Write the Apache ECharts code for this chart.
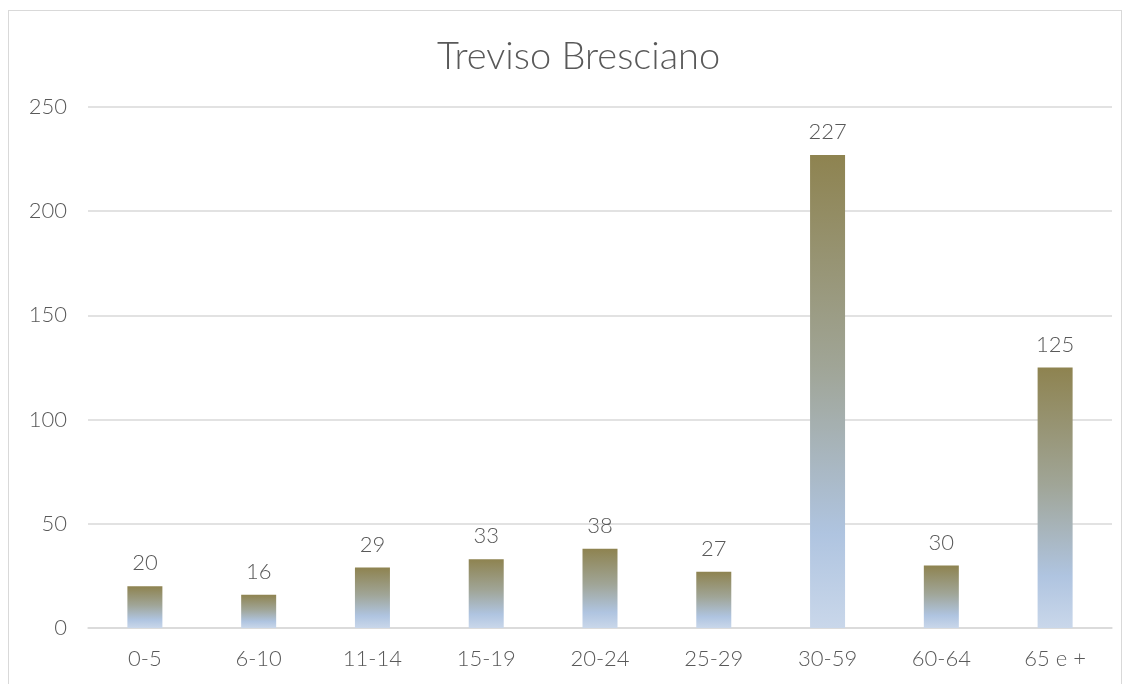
<!DOCTYPE html>
<html>
<head>
<meta charset="utf-8">
<script src="https://cdn.jsdelivr.net/npm/echarts@6/dist/echarts.min.js"></script>
<style>
  html, body { margin: 0; padding: 0; background: #fff; }
  #frame { position: absolute; left: 8px; top: 10px; width: 1114px; height: 690px; border: 1px solid #d9d9d9; box-sizing: border-box; }
  #chart { position: absolute; left: 0; top: 0; width: 1130px; height: 684px; }
</style>
</head>
<body>
<div id="frame"></div>
<div id="chart"></div>
<script>
const categories = ['0-5', '6-10', '11-14', '15-19', '20-24', '25-29', '30-59', '60-64', '65 e +']
const values = [20, 16, 29, 33, 38, 27, 227, 30, 125]
const yTicks = { min: 0, max: 250, interval: 50 }

const myChart = echarts.init(document.getElementById('chart'))
myChart.setOption({
  textStyle: { fontFamily: 'Lato', fontWeight: 300 },
  title: {
    text: 'Treviso Bresciano',
    left: 432,
    top: 33,
    textStyle: { fontFamily: 'Lato', fontWeight: 300, fontSize: 38, color: '#595959' }
  },
  grid: { left: 88, right: 18, top: 107, bottom: 56 },
  xAxis: {
    type: 'category',
    data: categories,
    axisTick: { show: false },
    axisLine: { lineStyle: { color: '#d9d9d9', width: 1.5 } },
    axisLabel: { fontFamily: 'Lato', fontWeight: 300, fontSize: 22, color: '#595959', margin: 20 }
  },
  yAxis: {
    type: 'value',
    min: yTicks.min,
    max: yTicks.max,
    interval: yTicks.interval,
    axisLine: { show: false },
    axisTick: { show: false },
    splitLine: { lineStyle: { color: '#d9d9d9', width: 1.5 } },
    axisLabel: { fontFamily: 'Lato', fontWeight: 300, fontSize: 22, color: '#595959', margin: 21 }
  },
  series: [
    {
      type: 'bar',
      data: values,
      barWidth: 35,
      itemStyle: {
        color: new echarts.graphic.LinearGradient(0, 0, 0, 1, [
          { offset: 0, color: '#8e8350' },
          { offset: 0.45, color: '#a0a597' },
          { offset: 0.8, color: '#afc4e0' },
          { offset: 1, color: '#c9d7ea' }
        ])
      },
      label: {
        show: true,
        position: 'top',
        distance: 12,
        fontFamily: 'Lato',
        fontWeight: 300,
        fontSize: 22,
        color: '#595959'
      }
    }
  ]
})
</script>
</body>
</html>
